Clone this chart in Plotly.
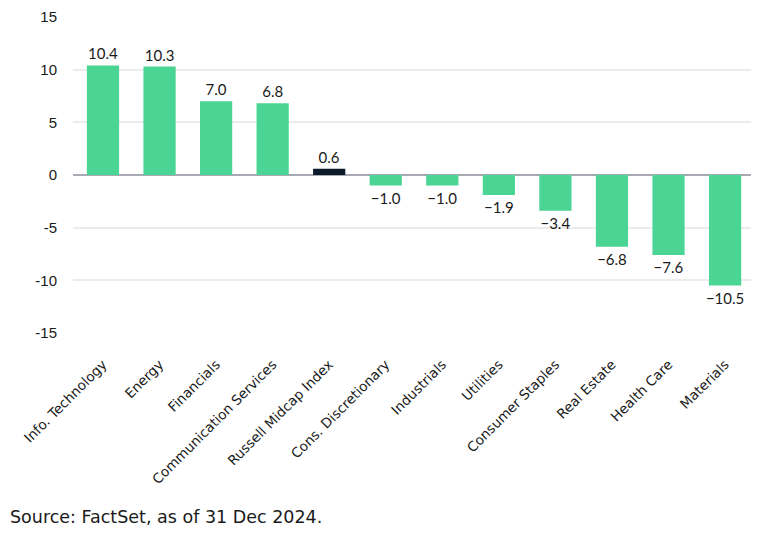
import plotly.graph_objects as go

categories = ["Info. Technology", "Energy", "Financials", "Communication Services",
              "Russell Midcap Index", "Cons. Discretionary", "Industrials", "Utilities",
              "Consumer Staples", "Real Estate", "Health Care", "Materials"]
values = [10.4, 10.3, 7.0, 6.8, 0.6, -1.0, -1.0, -1.9, -3.4, -6.8, -7.6, -10.5]
highlight = "Russell Midcap Index"
y_ticks = [15, 10, 5, 0, -5, -10, -15]

GREEN = "#4bd594"
DARK = "#0c1a2a"
colors = [DARK if c == highlight else GREEN for c in categories]
labels = [f"{v:.1f}".replace("-", "\u2212") for v in values]

L, T = 65, 9
PW = 751 - L

fig = go.Figure(go.Bar(
    x=categories, y=values, marker=dict(color=colors, line=dict(width=0)),
    width=0.57, text=labels, textposition="outside", constraintext="none",
    textfont=dict(family="Lato, sans-serif", size=15, color="#1a1a1a"),
    cliponaxis=False,
))

fig.update_layout(
    width=751, height=527,
    margin=dict(l=L, r=0, t=T, b=202),
    plot_bgcolor="white", paper_bgcolor="white",
    showlegend=False,
    font=dict(family="Lato, sans-serif", color="#1a1a1a"),
    xaxis=dict(range=[-0.5305, 11.60], tickangle=-45, showgrid=False, showline=False,
               ticks="", ticklabelstandoff=20,
               tickfont=dict(family="DejaVu Sans, sans-serif", size=13.6, color="#1a1a1a")),
    yaxis=dict(range=[-15, 15], tickvals=y_ticks, ticktext=[str(t) for t in y_ticks],
               showgrid=True, gridcolor="#ececec", gridwidth=2,
               zeroline=True, zerolinecolor="#a8abb3", zerolinewidth=2,
               ticks="", ticklabelstandoff=15,
               tickfont=dict(family="Liberation Sans, Arial, sans-serif", size=15, color="#1a1a1a")),
    annotations=[dict(text="Source: FactSet, as of 31 Dec 2024.", xref="paper", yref="paper",
                      x=-L / PW, y=-0.582, xanchor="left", yanchor="middle", showarrow=False,
                      font=dict(family="DejaVu Sans, sans-serif", size=17.5, color="#1a1a1a"))],
)

fig.write_html("out.html")
